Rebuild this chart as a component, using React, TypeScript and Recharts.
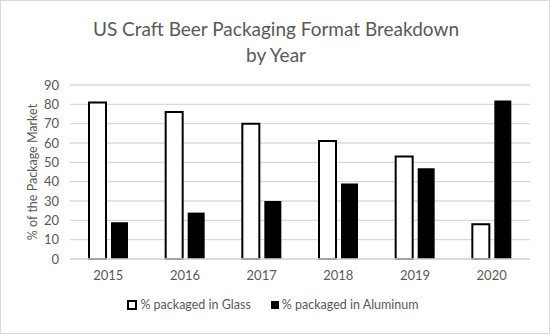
import React from 'react';
import { BarChart, Bar, XAxis, YAxis, CartesianGrid, Legend } from 'recharts';

const years = ['2015', '2016', '2017', '2018', '2019', '2020'];
const glassShare = [81, 76, 70, 61, 53, 18];
const aluminumShare = [19, 24, 30, 39, 47, 82];
const yTicks = [0, 10, 20, 30, 40, 50, 60, 70, 80, 90];

const data = years.map((year, i) => ({
  year,
  glass: glassShare[i],
  aluminum: aluminumShare[i],
}));

const FONT = 'Lato, "Open Sans", sans-serif';
const TEXT = '#595959';

const renderLegend = () => (
  <div style={{ display: 'flex', justifyContent: 'center', alignItems: 'center', fontFamily: FONT, fontSize: 12.5, color: TEXT, paddingLeft: 16 }}>
    <span style={{ display: 'inline-flex', alignItems: 'center', marginRight: 20 }}>
      <span style={{ width: 6, height: 6, border: '2px solid #000', background: '#fff', marginRight: 3 }} />
      % packaged in Glass
    </span>
    <span style={{ display: 'inline-flex', alignItems: 'center' }}>
      <span style={{ width: 8, height: 8, background: '#000', marginRight: 3 }} />
      % packaged in Aluminum
    </span>
  </div>
);

const App: React.FC = () => {
  return (
    <div
      style={{
        position: 'absolute',
        left: 0,
        top: 0,
        width: 550,
        height: 334,
        background: '#fff',
        outline: '1px solid #d9d9d9',
        outlineOffset: -1,
      }}
    >
      <div
        style={{
          position: 'absolute',
          left: 0,
          width: 552,
          top: 16,
          textAlign: 'center',
          fontFamily: FONT,
          fontSize: 19,
          lineHeight: '26px',
          color: TEXT,
        }}
      >
        US Craft Beer Packaging Format Breakdown
        <br />
        by Year
      </div>
      <BarChart
        width={550}
        height={334}
        data={data}
        margin={{ top: 85, right: 20, left: 0, bottom: 17 }}
        barSize={17}
        barGap={5}
      >
        <CartesianGrid vertical={false} stroke="#d9d9d9" strokeWidth={1.3} />
        <XAxis
          dataKey="year"
          height={38}
          tickLine={false}
          axisLine={{ stroke: '#d9d9d9', strokeWidth: 1.3 }}
          tickMargin={6}
          tick={{ fill: TEXT, fontSize: 13, fontFamily: FONT }}
        />
        <YAxis
          width={70}
          domain={[0, 90]}
          ticks={yTicks}
          interval={0}
          tickLine={false}
          axisLine={false}
          tickMargin={5}
          tick={{ fill: TEXT, fontSize: 13, fontFamily: FONT }}
          label={{
            content: ({ viewBox }: any) => (
              <text
                x={32}
                y={viewBox.y + viewBox.height / 2}
                transform={`rotate(-90, 32, ${viewBox.y + viewBox.height / 2})`}
                textAnchor="middle"
                dominantBaseline="central"
                fill={TEXT}
                fontSize={12.5}
                fontFamily={FONT}
              >
                % of the Package Market
              </text>
            ),
          }}
        />
        <Legend verticalAlign="bottom" height={20} content={renderLegend} />
        <Bar dataKey="glass" name="% packaged in Glass" fill="#fff" stroke="#000" strokeWidth={2} isAnimationActive={false} />
        <Bar dataKey="aluminum" name="% packaged in Aluminum" fill="#000" isAnimationActive={false} />
      </BarChart>
    </div>
  );
};

export default App;
